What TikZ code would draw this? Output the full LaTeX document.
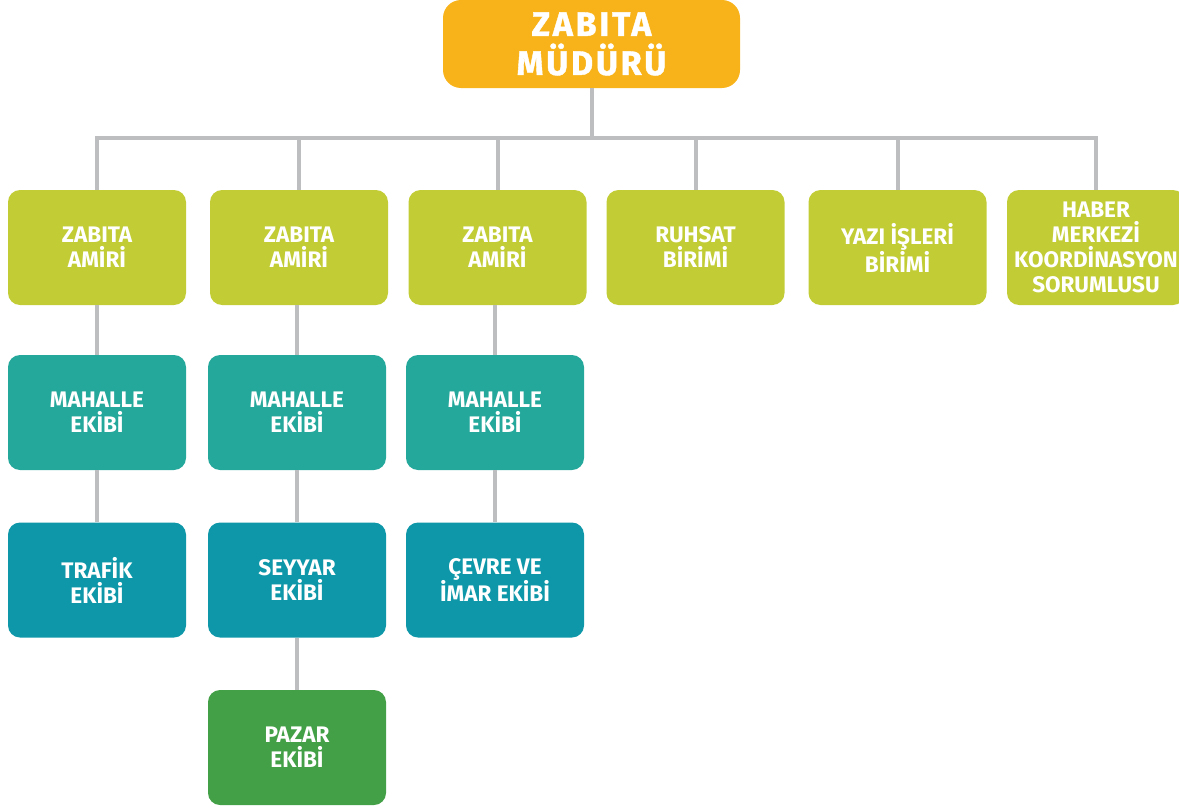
\documentclass[tikz,border=0pt]{standalone}
\usepackage{fontspec}
\setmainfont{Fira Sans}
\newfontfamily\topfont[FakeBold=1.2,LetterSpace=8]{Fira Sans Bold}
\definecolor{cOrange}{HTML}{F8B31A}
\definecolor{cLime}{HTML}{C2CD35}
\definecolor{cTeal}{HTML}{24A89B}
\definecolor{cDTeal}{HTML}{0E97A8}
\definecolor{cGreen}{HTML}{43A047}
\definecolor{cLine}{HTML}{BDBEC0}
\begin{document}
\begin{tikzpicture}[x=1pt,y=-1pt,
  box/.style={rectangle,rounded corners=12pt,minimum width=178pt,minimum height=115pt,inner sep=0pt,
    text=white,align=center,font=\fontsize{22.5}{25}\selectfont\bfseries},
  lime/.style={box,fill=cLime},
  teal/.style={box,fill=cTeal},
  dteal/.style={box,fill=cDTeal},
  grn/.style={box,fill=cGreen},
  conn/.style={draw=cLine,line width=4pt}]
\path[use as bounding box] (0,0) rectangle (1179,811);
\clip (0,0) rectangle (1179,811);
\node[rectangle,rounded corners=18pt,fill=cOrange,minimum width=297pt,minimum height=88pt,inner sep=0pt,
  text=white,align=center,font=\topfont\fontsize{34}{39}\selectfont] (top) at (591.5,44) {ZABITA\\MÜDÜRÜ};
\node[lime] (a1) at (97,247.5) {ZABITA\\AMİRİ};
\node[lime] (a2) at (299,247.5) {ZABITA\\AMİRİ};
\node[lime] (a3) at (497.5,247.5) {ZABITA\\AMİRİ};
\node[lime] (a4) at (695.5,247.5) {RUHSAT\\BİRİMİ};
\node[lime] (a5) at (897.5,247.5) {YAZI İŞLERİ\\BİRİMİ};
\node[lime] (a6) at (1096,247.5) {HABER\\MERKEZİ\\KOORDİNASYON\\SORUMLUSU};
\node[teal] (m1) at (97,412.5) {MAHALLE\\EKİBİ};
\node[teal] (m2) at (297,412.5) {MAHALLE\\EKİBİ};
\node[teal] (m3) at (495,412.5) {MAHALLE\\EKİBİ};
\node[dteal] (t1) at (97,580) {TRAFİK\\EKİBİ};
\node[dteal] (t2) at (297,580) {SEYYAR\\EKİBİ};
\node[dteal] (t3) at (495,580) {ÇEVRE VE\\İMAR EKİBİ};
\node[grn] (p2) at (297,747.5) {PAZAR\\EKİBİ};
\coordinate (bus) at (591.5,138);
\draw[conn] (top.south) -- (bus);
\draw[conn] (a1.north) -- (a1.north |- bus) -- (a6.north |- bus) -- (a6.north);
\foreach \n in {a2,a3,a4,a5}{\draw[conn] (\n.north) -- (\n.north |- bus);}
\draw[conn] (a1.south) -- (m1.north);
\draw[conn] (m1.south) -- (t1.north);
\draw[conn] (m2.north) -- (m2.north |- a2.south);
\draw[conn] (m2.south) -- (t2.north);
\draw[conn] (t2.south) -- (p2.north);
\draw[conn] (m3.north) -- (m3.north |- a3.south);
\draw[conn] (m3.south) -- (t3.north);
\end{tikzpicture}
\end{document}
